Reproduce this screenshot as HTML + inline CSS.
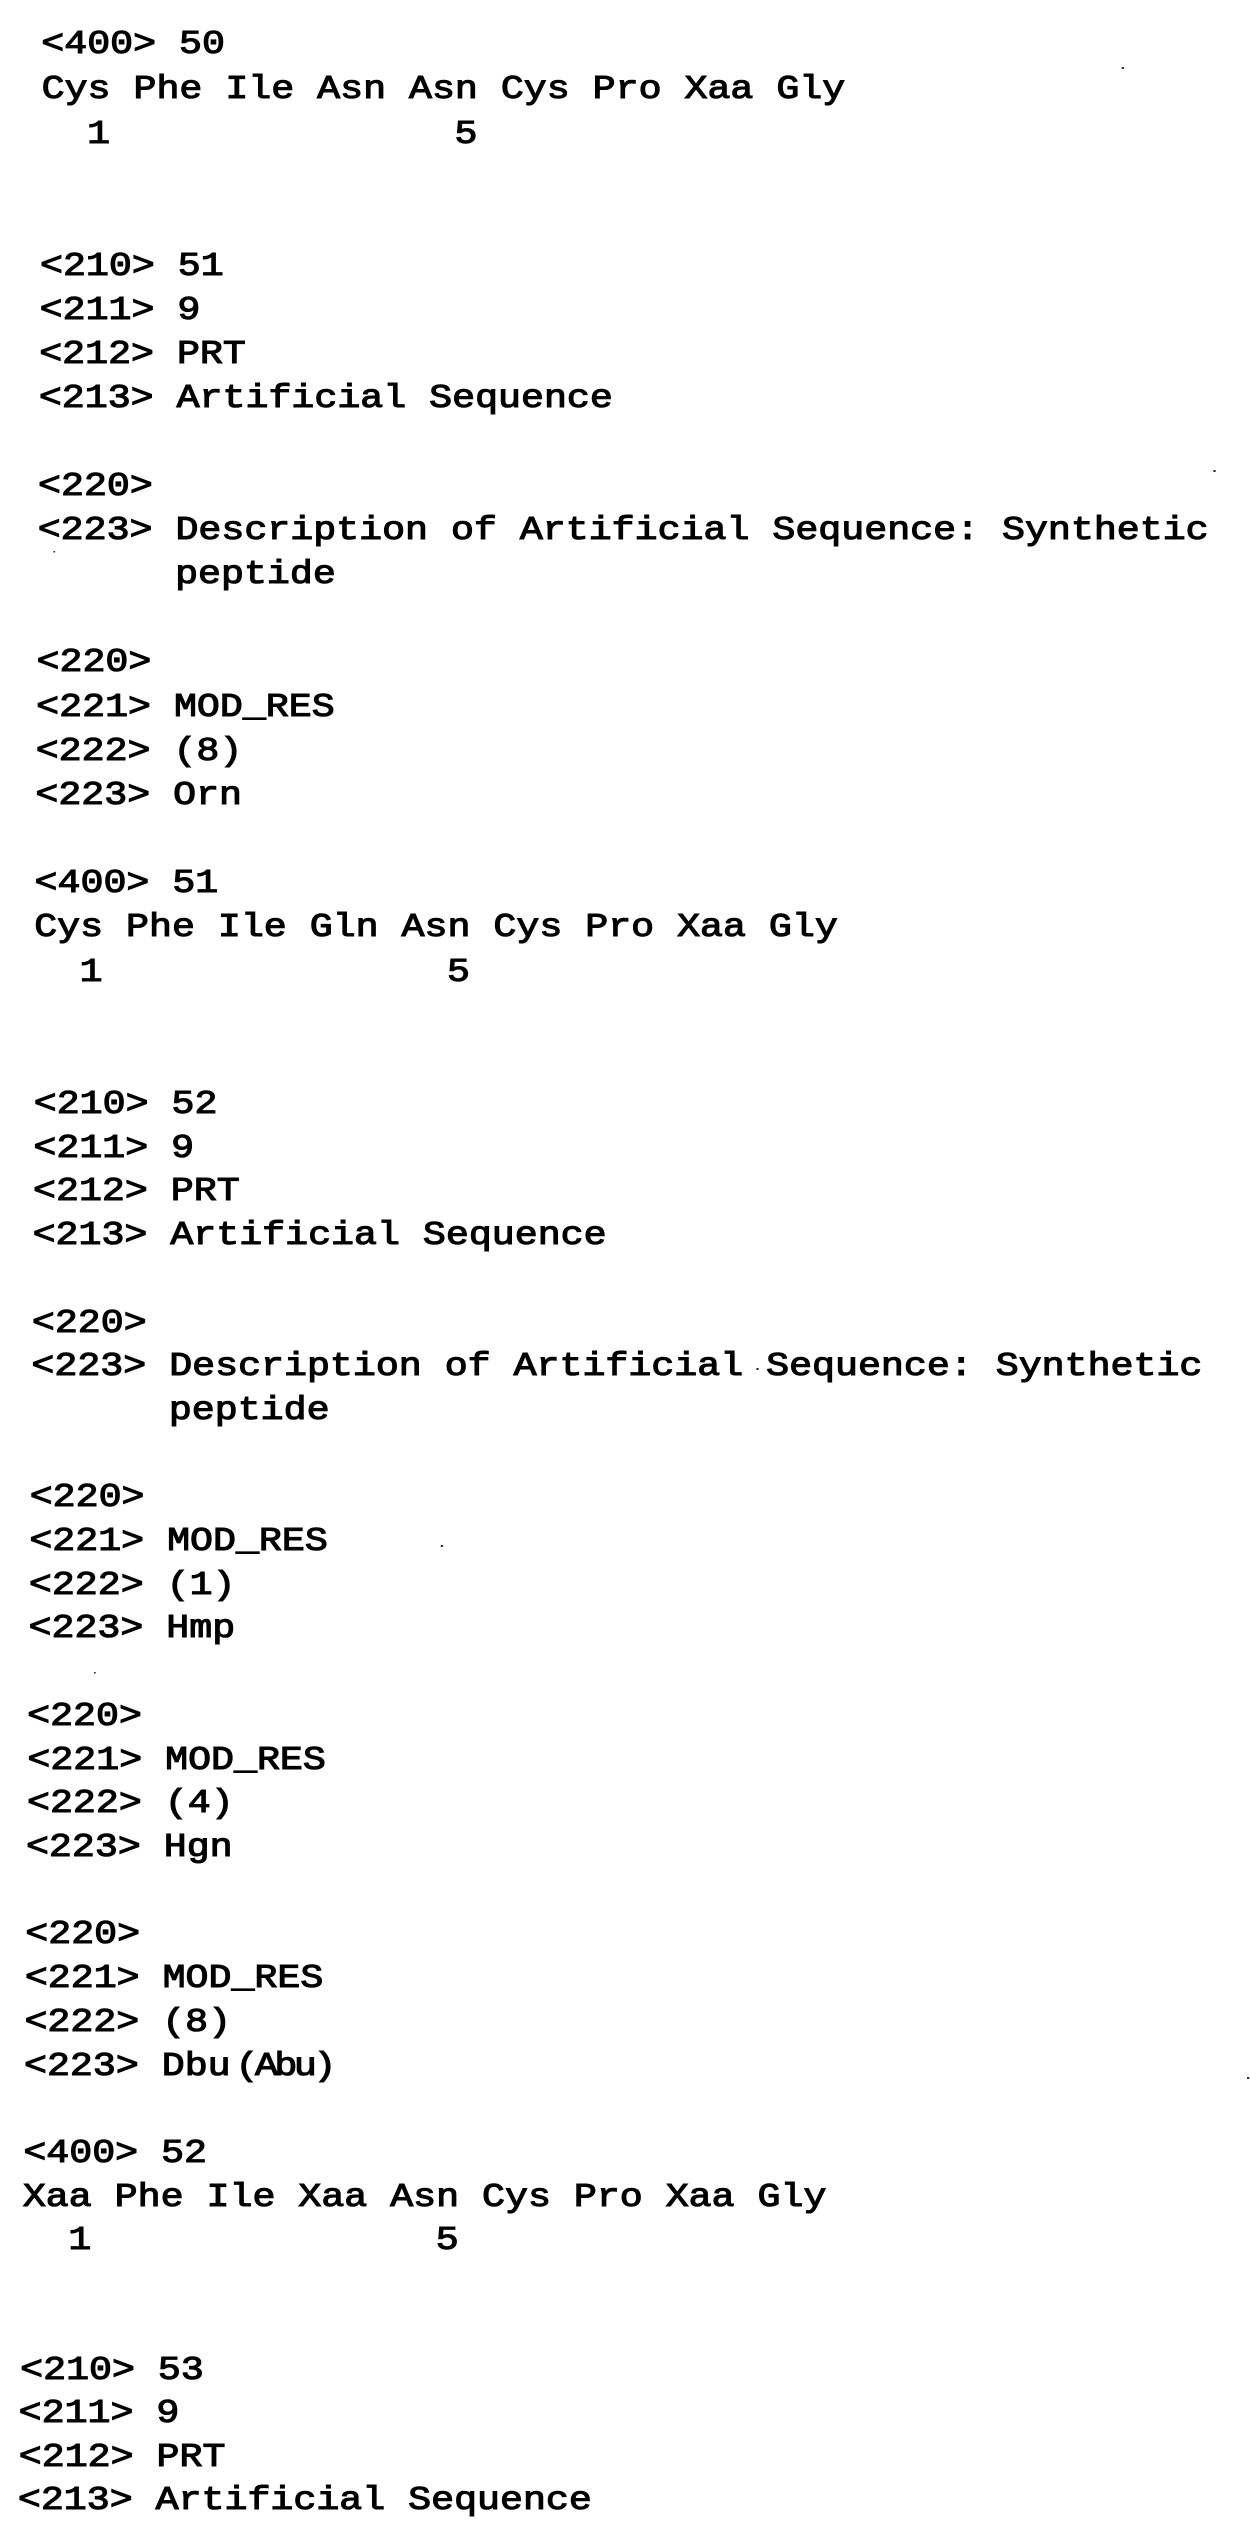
<!DOCTYPE html>
<html>
<head>
<meta charset="utf-8">
<style>
html,body{margin:0;padding:0;background:#fff;width:1250px;height:2544px;overflow:hidden}
svg{display:block;position:absolute;left:0;top:0}
text{font-family:"Liberation Mono","DejaVu Sans Mono",monospace;font-size:33px;fill:#000;stroke:#000;stroke-width:1.1px;white-space:pre}
</style>
</head>
<body>
<svg width="1250" height="2544" viewBox="0 0 1077.6 2544" preserveAspectRatio="none" xmlns="http://www.w3.org/2000/svg">
<text x="35.6" y="53">&lt;400&gt; 50</text>
<text x="35.9" y="98">Cys Phe Ile Asn Asn Cys Pro Xaa Gly</text>
<text x="35.5" y="143">  1               5</text>
<text x="34.5" y="275">&lt;210&gt; 51</text>
<text x="34.2" y="319">&lt;211&gt; 9</text>
<text x="33.8" y="363">&lt;212&gt; PRT</text>
<text x="33.5" y="407">&lt;213&gt; Artificial Sequence</text>
<text x="32.8" y="495">&lt;220&gt;</text>
<text x="32.5" y="539">&lt;223&gt; Description of Artificial Sequence: Synthetic</text>
<text x="32.2" y="583">      peptide</text>
<text x="31.5" y="671">&lt;220&gt;</text>
<text x="31.2" y="716">&lt;221&gt; MOD_RES</text>
<text x="30.8" y="760">&lt;222&gt; (8)</text>
<text x="30.5" y="804">&lt;223&gt; Orn</text>
<text x="29.8" y="892">&lt;400&gt; 51</text>
<text x="29.5" y="936">Cys Phe Ile Gln Asn Cys Pro Xaa Gly</text>
<text x="29.1" y="981">  1               5</text>
<text x="29.1" y="1113">&lt;210&gt; 52</text>
<text x="28.8" y="1157">&lt;211&gt; 9</text>
<text x="28.5" y="1200">&lt;212&gt; PRT</text>
<text x="28.1" y="1244">&lt;213&gt; Artificial Sequence</text>
<text x="27.5" y="1332">&lt;220&gt;</text>
<text x="27.1" y="1375">&lt;223&gt; Description of Artificial Sequence: Synthetic</text>
<text x="26.8" y="1419">      peptide</text>
<text x="25.6" y="1506">&lt;220&gt;</text>
<text x="25.3" y="1550">&lt;221&gt; MOD_RES</text>
<text x="24.9" y="1594">&lt;222&gt; (1)</text>
<text x="24.6" y="1637">&lt;223&gt; Hmp</text>
<text x="23.4" y="1725">&lt;220&gt;</text>
<text x="23.6" y="1769">&lt;221&gt; MOD_RES</text>
<text x="23.3" y="1812">&lt;222&gt; (4)</text>
<text x="22.4" y="1856">&lt;223&gt; Hgn</text>
<text x="21.8" y="1943">&lt;220&gt;</text>
<text x="21.4" y="1987">&lt;221&gt; MOD_RES</text>
<text x="21.1" y="2031">&lt;222&gt; (8)</text>
<text x="20.7" y="2075">&lt;223&gt; Dbu</text>
<text x="203" y="2075" style="letter-spacing:-3px">(Abu)</text>
<text x="20.1" y="2162">&lt;400&gt; 52</text>
<text x="19.7" y="2206">Xaa Phe Ile Xaa Asn Cys Pro Xaa Gly</text>
<text x="19.4" y="2249">  1               5</text>
<text x="17.4" y="2379">&lt;210&gt; 53</text>
<text x="16.1" y="2422">&lt;211&gt; 9</text>
<text x="16.2" y="2466">&lt;212&gt; PRT</text>
<text x="15.4" y="2509">&lt;213&gt; Artificial Sequence</text>
<g fill="#333">
<rect x="967" y="67" width="2" height="2"/>
<rect x="1046" y="470" width="2" height="2"/>
<rect x="46" y="551" width="1.5" height="1.5"/>
<rect x="380" y="1545" width="2" height="2"/>
<rect x="652" y="1368" width="2" height="2"/>
<rect x="81" y="1672" width="1.5" height="1.5"/>
<rect x="1075" y="2077" width="2" height="2"/>
</g>
</svg>
</body>
</html>
